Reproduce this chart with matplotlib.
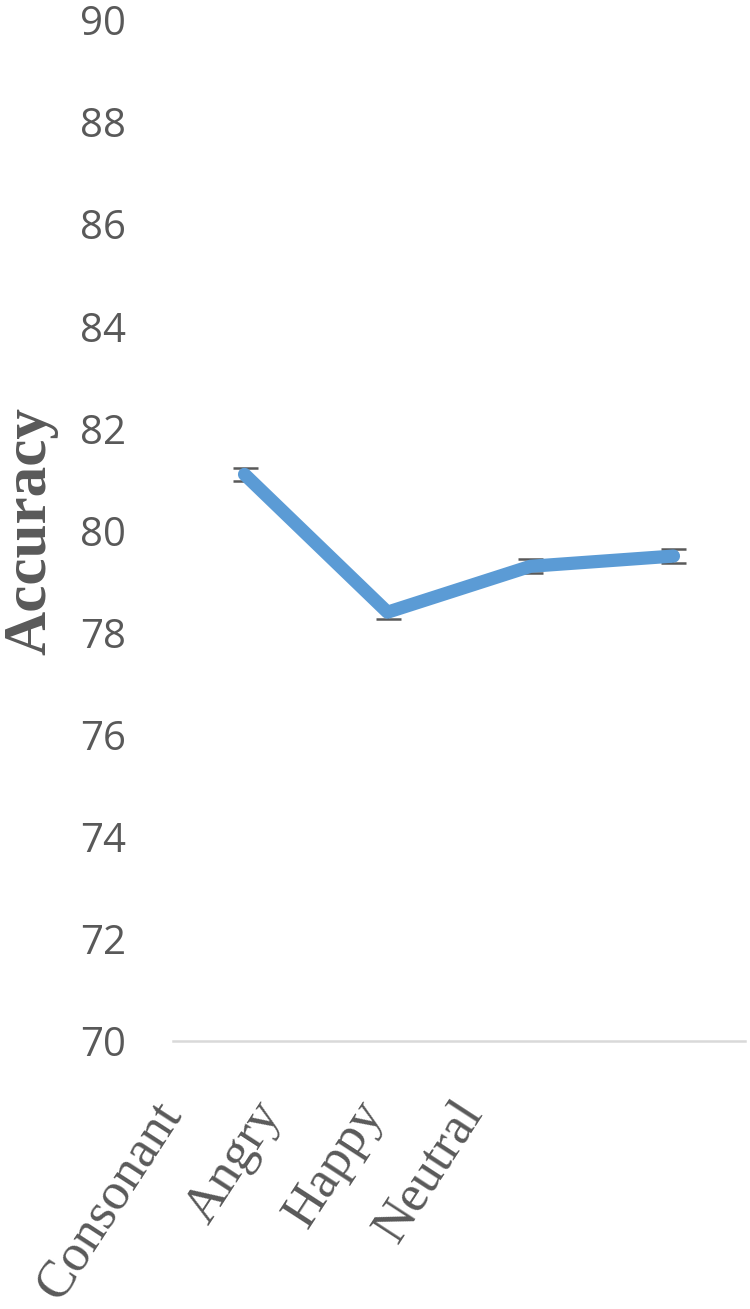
import matplotlib.pyplot as plt
from matplotlib.transforms import ScaledTranslation

# Data
categories = ['Consonant', 'Angry', 'Happy', 'Neutral']
accuracy = [81.1, 78.4, 79.3, 79.5]
errors = [0.12, 0.13, 0.14, 0.13]
y_ticks = [70, 72, 74, 76, 78, 80, 82, 84, 86, 88, 90]

fig = plt.figure(figsize=(7.5, 13.09), dpi=100)
ax = fig.add_axes([0.2307, 0.2047, 0.7626, 0.78])

x = list(range(len(categories)))
ax.errorbar(x, accuracy, yerr=errors, fmt='none', ecolor='#595959',
            elinewidth=1.5, capsize=9, capthick=1.8, zorder=2)
ax.plot(x, accuracy, color='#5B9BD5', linewidth=9.5,
        solid_joinstyle='round', solid_capstyle='round', zorder=3)

ax.set_xlim(-0.5, len(categories) - 0.5)
ax.set_ylim(70, 90)
ax.set_yticks(y_ticks)
ax.set_yticklabels([str(t) for t in y_ticks], fontsize=29, color='#595959',
                   family='Open Sans')
ax.tick_params(axis='y', length=0, pad=34)
ax.tick_params(axis='x', length=0, pad=37)

ax.set_xticks(x)
ax.set_xticklabels(categories, rotation=57, ha='right', va='top',
                   rotation_mode='anchor', fontsize=38, color='#595959',
                   family='Liberation Serif')
# labels sit further left than their ticks in the original
shifts = [93, 137, 178, 221]
for lab, s in zip(ax.get_xticklabels(), shifts):
    lab.set_transform(lab.get_transform() + ScaledTranslation(-s / 100, 0, fig.dpi_scale_trans))

for side in ['left', 'right', 'top']:
    ax.spines[side].set_visible(False)
ax.spines['bottom'].set_color('#D9D9D9')
ax.spines['bottom'].set_linewidth(1.8)

ax.set_ylabel('Accuracy', fontsize=44, fontweight='bold', family='Liberation Serif',
              color='#595959')
ax.yaxis.set_label_coords(-0.201, 0.5)

fig.savefig('out.png', dpi=100)
